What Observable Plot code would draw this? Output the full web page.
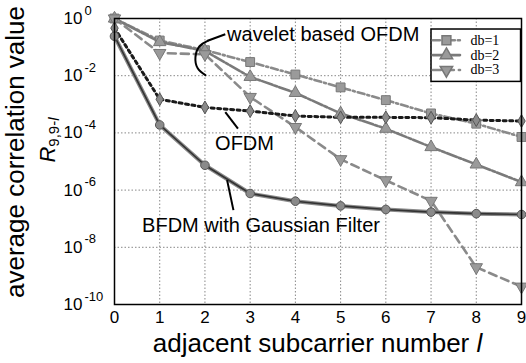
<!DOCTYPE html>
<html><head><meta charset="utf-8">
<script src="https://cdn.jsdelivr.net/npm/d3@7"></script>
<script src="https://cdn.jsdelivr.net/npm/@observablehq/plot@0.6"></script>
<style>body{margin:0;background:#fff}svg{display:block}</style>
</head><body><div id="chart"></div>
<script>
// ---- data ----
const subcarrier = [0, 1, 2, 3, 4, 5, 6, 7, 8, 9];
const ofdm      = [0.46, 1.5e-3, 7.8e-4, 5.8e-4, 3.9e-4, 3.5e-4, 3.5e-4, 3.4e-4, 2.8e-4, 2.6e-4];
const bfdmGauss = [0.24, 1.9e-4, 7.4e-6, 7.6e-7, 4.1e-7, 2.8e-7, 2.1e-7, 1.7e-7, 1.5e-7, 1.4e-7];
const db1 = [1, 0.17, 0.078, 0.030, 0.011, 3.9e-3, 1.4e-3, 4.8e-4, 2.1e-4, 7.2e-5];
const db2 = [1, 0.15, 0.074, 9.1e-3, 2.5e-3, 4.8e-4, 1.4e-4, 3.2e-5, 7.9e-6, 1.9e-6];
const db3 = [1, 0.062, 0.056, 1.8e-3, 1.6e-4, 1.2e-5, 2.2e-6, 4.2e-7, 2.0e-9, 4.2e-10];
const xTicks = [0, 1, 2, 3, 4, 5, 6, 7, 8, 9];
const yTicks = [1, 1e-2, 1e-4, 1e-6, 1e-8, 1e-10];
const yExponents = ["0", "-2", "-4", "-6", "-8", "-10"];
const legendLabels = ["db=1", "db=2", "db=3"];
const annotationLabels = ["wavelet based OFDM", "OFDM", "BFDM with Gaussian Filter"];

// ---- styles ----
const triangleDown = {
  draw(ctx, size) {
    const y = Math.sqrt(size / (Math.sqrt(3) * 3));
    ctx.moveTo(0, y * 2);
    ctx.lineTo(Math.sqrt(3) * y, -y);
    ctx.lineTo(-Math.sqrt(3) * y, -y);
    ctx.closePath();
  }
};
const waveletSeries = [
  {values: db1, stroke: "#8a8a8a", dash: "7,3,2,3", symbol: "square", r: 5},
  {values: db2, stroke: "#7a7a7a", dash: "11,2,3,2", symbol: "triangle", r: 4.6},
  {values: db3, stroke: "#8a8a8a", dash: "8,5", symbol: triangleDown, r: 4.6}
];
const rowsOf = vals => subcarrier.map((x, i) => ({x, y: vals[i]}));
const L = v => Math.pow(10, v); // annotation placement in log units
const sans = "Liberation Sans, Arial, sans-serif";

const marks = [
  Plot.gridX(xTicks, {stroke: "#888", strokeOpacity: 1, strokeDasharray: "1.5,2"}),
  Plot.gridY(yTicks, {stroke: "#888", strokeOpacity: 1, strokeDasharray: "1.5,2"})
];
for (const s of waveletSeries) {
  marks.push(Plot.line(rowsOf(s.values), {x: "x", y: "y", stroke: s.stroke, strokeWidth: 2.6, strokeDasharray: s.dash}));
}
marks.push(
  Plot.line(rowsOf(ofdm), {x: "x", y: "y", stroke: "#1a1a1a", strokeWidth: 3, strokeDasharray: "3,3.5"}),
  Plot.line(rowsOf(bfdmGauss), {x: "x", y: "y", stroke: "#8a8a8a", strokeWidth: 4}),
  Plot.line(rowsOf(bfdmGauss), {x: "x", y: "y", stroke: "#333", strokeWidth: 1.6})
);
for (const s of waveletSeries) {
  marks.push(Plot.dot(rowsOf(s.values), {x: "x", y: "y", symbol: s.symbol, r: s.r, fill: "#9a9a9a", stroke: "#777", strokeWidth: 1}));
}
marks.push(
  Plot.dot(rowsOf(ofdm), {x: "x", y: "y", symbol: "diamond", r: 3.9, fill: "#8a8a8a", stroke: "#555", strokeWidth: 1}),
  Plot.dot(rowsOf(bfdmGauss), {x: "x", y: "y", symbol: "circle", r: 4.3, fill: "#8a8a8a", stroke: "#555", strokeWidth: 1})
);

// annotations
marks.push(
  Plot.text([annotationLabels[0]], {x: 2.49, y: L(-0.56), text: d => d, textAnchor: "start", fontSize: 20, fill: "#000"}),
  Plot.text([annotationLabels[1]], {x: 2.875, y: L(-4.38), text: d => d, fontSize: 20, fill: "#000"}),
  Plot.text([annotationLabels[2]], {x: 0.61, y: L(-7.24), text: d => d, textAnchor: "start", fontSize: 20, fill: "#000"}),
  Plot.link([0], {x1: 2.06, y1: L(-0.78), x2: 2.45, y2: L(-0.55), stroke: "#000", strokeWidth: 2}),
  Plot.link([0], {x1: 2.45, y1: L(-3.27), x2: 2.73, y2: L(-3.85), stroke: "#000", strokeWidth: 2}),
  Plot.link([0], {x1: 2.49, y1: L(-5.65), x2: 2.63, y2: L(-6.70), stroke: "#000", strokeWidth: 2}),
  Plot.line([[2.06, -0.78], [1.88, -0.97], [1.79, -1.35], [1.84, -1.74], [2.01, -1.98]],
    {x: d => d[0], y: d => L(d[1]), curve: "natural", stroke: "#000", strokeWidth: 2})
);

// legend
const legendRows = [-0.76, -1.28, -1.80];
marks.push(Plot.rect([{x1: 7.01, x2: 8.99, y1: L(-2.217), y2: L(-0.385)}],
  {x1: "x1", x2: "x2", y1: "y1", y2: "y2", fill: "#fff", stroke: "#000", strokeWidth: 1.5}));
waveletSeries.forEach((s, i) => {
  marks.push(
    Plot.line([[7.04, legendRows[i]], [7.64, legendRows[i]]], {x: d => d[0], y: d => L(d[1]), stroke: s.stroke, strokeWidth: 2.6, strokeDasharray: s.dash}),
    Plot.dot([[7.34, legendRows[i]]], {x: d => d[0], y: d => L(d[1]), symbol: s.symbol, r: s.r, fill: "#9a9a9a", stroke: "#777"}),
    Plot.text([legendLabels[i]], {x: 7.87, y: L(legendRows[i]), text: d => d, textAnchor: "start", fontSize: 14, fontFamily: "Liberation Serif, Times New Roman, serif", fill: "#000"})
  );
});

marks.push(
  Plot.frame({stroke: "#000", strokeWidth: 1.5}),
  Plot.axisX(xTicks, {tickSize: 0, tickPadding: 6, fontSize: 17, label: null, tickFormat: d => String(d)}),
  Plot.text(yTicks, {y: d => d, frameAnchor: "left", dx: -32, textAnchor: "end", fontSize: 17, text: () => "10", fill: "#000"}),
  Plot.text(yTicks, {y: d => d, frameAnchor: "left", dx: -30, dy: -8, textAnchor: "start", fontSize: 13,
    text: d => yExponents[yTicks.indexOf(d)], fill: "#000"})
);

const chart = Plot.plot({
  width: 526, height: 363,
  marginLeft: 114, marginRight: 5, marginTop: 18, marginBottom: 59,
  style: {fontFamily: sans, background: "#fff", color: "#000"},
  x: {domain: [0, 9], axis: null},
  y: {type: "log", domain: [1e-10, 1], axis: null},
  marks
});
document.getElementById("chart").append(chart);

// axis titles with italic parts
const svg = d3.select(chart);
const yl = svg.append("g").attr("font-family", sans).attr("fill", "#000");
yl.append("text").attr("transform", "translate(24,152) rotate(-90)").attr("text-anchor", "middle")
  .attr("font-size", 26).text("average correlation value");
const rt = yl.append("text").attr("transform", "translate(55,140) rotate(-90)").attr("text-anchor", "middle").attr("font-size", 22);
rt.append("tspan").attr("font-style", "italic").text("R");
const sub = rt.append("tspan").attr("font-size", 15).attr("dy", 4);
sub.append("tspan").text("9,9-");
sub.append("tspan").attr("font-style", "italic").text("l");
const xt = svg.append("text").attr("x", 317.5).attr("y", 352).attr("text-anchor", "middle")
  .attr("font-family", sans).attr("font-size", 26).attr("fill", "#000");
xt.append("tspan").text("adjacent subcarrier number ");
xt.append("tspan").attr("font-style", "italic").text("l");
</script>
</body></html>
